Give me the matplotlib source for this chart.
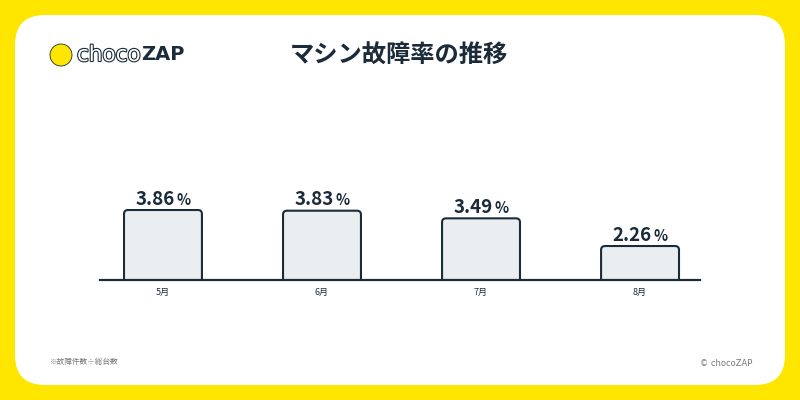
import matplotlib
matplotlib.use("Agg")
import matplotlib.pyplot as plt
from matplotlib.patches import FancyBboxPatch, Ellipse
import matplotlib.patheffects as pe

plt.rcParams['font.family'] = ['Noto Sans CJK JP', 'DejaVu Sans']

months = ['5月', '6月', '7月', '8月']
rates = [3.86, 3.83, 3.49, 2.26]
title = 'マシン故障率の推移'
note = '※故障件数÷総台数'
credit = '© chocoZAP'

yellow = '#FFE600'
navy = '#1B2B3A'
bar_fill = '#EBEEF1'
gray = '#777777'

fig = plt.figure(figsize=(8, 4), dpi=100)
fig.patch.set_facecolor(yellow)

# white card with rounded corners (figure fraction coords, aspect 2:1)
card = FancyBboxPatch((15 / 800, 15 / 400), 770 / 800, 370 / 400,
                      boxstyle='round,pad=0,rounding_size=0.0375',
                      mutation_aspect=2, transform=fig.transFigure,
                      facecolor='white', edgecolor='none', zorder=-5)
fig.patches.append(card)

# chart area
ax = fig.add_axes([100 / 800, 120 / 400, 600 / 800, 180 / 400])
ax.set_facecolor('none')
x = list(range(len(months)))
bars = ax.bar(x, rates, width=0.49, color=bar_fill, edgecolor=navy, linewidth=1.5)
ax.set_xlim(-0.396, 3.377)
ax.set_ylim(0.75, 8.75)

# swap the plain rectangles for rounded ones
for rect in bars:
    rb = FancyBboxPatch((rect.get_x(), rect.get_y()), rect.get_width(), rect.get_height(),
                        boxstyle='round,pad=0,rounding_size=0.025', mutation_aspect=7.0,
                        facecolor=bar_fill, edgecolor=navy, linewidth=1.5, zorder=2)
    ax.add_patch(rb)
    rect.remove()

for xi, v in zip(x, rates):
    ax.annotate(f'{v:.2f}', xy=(xi, v), xytext=(8.6, 3.8), textcoords='offset points',
                ha='right', va='baseline', fontsize=13.5, fontweight='bold', color=navy)
    ax.annotate('%', xy=(xi, v), xytext=(9.6, 3.8), textcoords='offset points',
                ha='left', va='baseline', fontsize=10.5, fontweight='bold', color=navy)

for s in ['top', 'right', 'left']:
    ax.spines[s].set_visible(False)
ax.spines['bottom'].set_color(navy)
ax.spines['bottom'].set_linewidth(1.6)
ax.spines['bottom'].set_zorder(3)
ax.set_yticks([])
ax.set_xticks(x)
ax.set_xticklabels(months, fontsize=6.5, color=navy)
ax.tick_params(axis='x', length=0, pad=6)

# title
fig.text(0.499, 1 - 56 / 400, title, ha='center', va='center',
         fontsize=17.5, fontweight='bold', color=navy)

# logo
fig.patches.append(Ellipse((61 / 800, 1 - 55 / 400), 22 / 800, 22 / 400, transform=fig.transFigure,
                           facecolor=yellow, edgecolor=navy, linewidth=0.6, zorder=3))
fig.text(77 / 800, 1 - 55 / 400, 'choco', ha='left', va='center', fontsize=15.5,
         family='DejaVu Sans', color='white',
         path_effects=[pe.withStroke(linewidth=1.6, foreground=navy)])
fig.text(141 / 800, 1 - 55 / 400, 'ZAP', ha='left', va='center', fontsize=14,
         fontweight='bold', family='DejaVu Sans', color=navy)

# footer
fig.text(50 / 800, 1 - 362 / 400, note, ha='left', va='center', fontsize=5.5, color=gray)
fig.text(752 / 800, 1 - 363 / 400, credit, ha='right', va='center', fontsize=6,
         color=gray, family=['DejaVu Sans'])

fig.savefig('out.png', dpi=100, facecolor=fig.get_facecolor())
